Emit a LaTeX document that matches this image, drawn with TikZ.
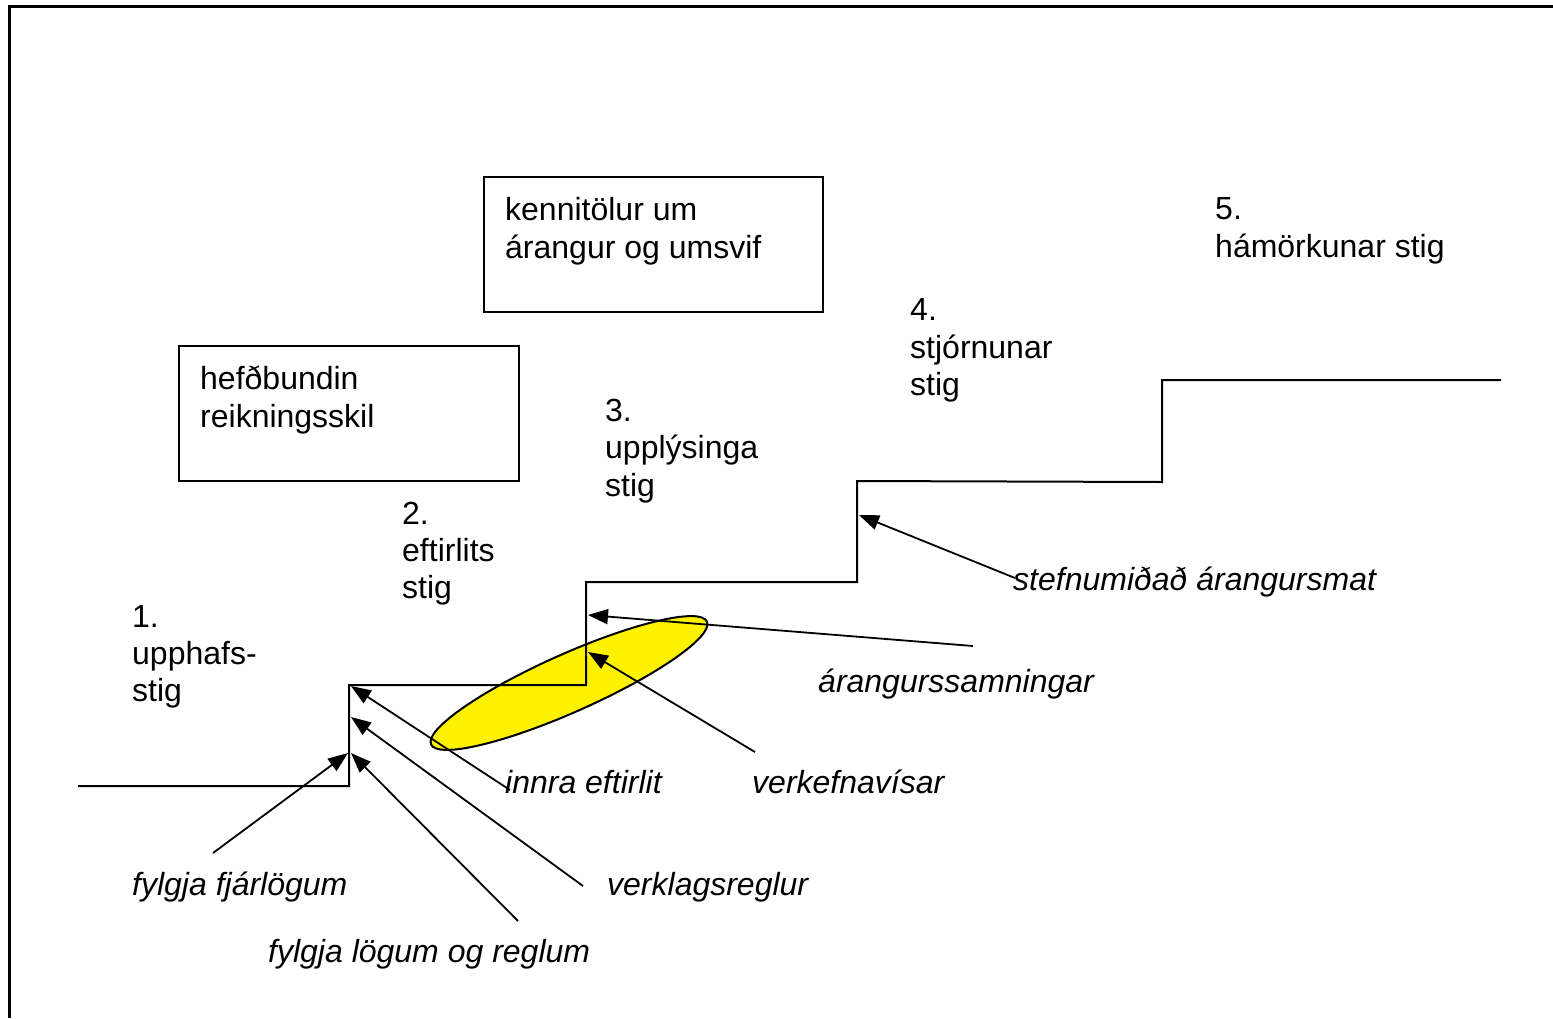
\documentclass[tikz,border=0pt]{standalone}
\usepackage{fontspec}
\setmainfont{Liberation Sans}
\usetikzlibrary{arrows.meta}
\begin{document}
\begin{tikzpicture}[x=1pt,y=-1pt,
  lbl/.style={font=\fontsize{32}{38}\selectfont, anchor=base west, inner sep=0pt},
  ilbl/.style={lbl, font=\fontsize{32}{38}\selectfont\itshape},
  boxstyle/.style={draw, line width=2pt},
  stair/.style={draw, line width=2pt},
  pointer/.style={draw, line width=1.8pt, -{Triangle[length=20pt,width=15pt]}},
  frame/.style={draw, line width=3pt}]
\path[use as bounding box] (0,0) rectangle (1553,1018);
% frame
\draw[frame] (9,1018) -- (9,6) -- (1553,6);
% boxes
\draw[boxstyle] (484,177) rectangle (823,312);
\draw[boxstyle] (179,346) rectangle (519,481);
% ellipse
\draw[line width=2pt, fill=yellow, rotate around={24:(569,683)}] (569,683) ellipse [x radius=151pt, y radius=29pt];
% stairs
\coordinate (s0) at (78,786);
\coordinate (s1) at (349,786);
\coordinate (s2) at (349,685);
\coordinate (s3) at (586,685);
\coordinate (s4) at (586,582);
\coordinate (s5) at (857,582);
\coordinate (s6) at (857,481);
\coordinate (s7) at (1162,482);
\coordinate (s8) at (1162,380);
\coordinate (s9) at (1501,380);
\draw[stair] (s0) -- (s1) -- (s2) -- (s3) -- (s4) -- (s5) -- (s6) -- (s7) -- (s8) -- (s9);
% box texts
\node[lbl] (k1) at (505,220) {kennitölur um};
\node[lbl] (k2) at (505,258) {árangur og umsvif};
\node[lbl] (h1) at (200,389) {hefðbundin};
\node[lbl] (h2) at (200,427) {reikningsskil};
% stage labels
\node[lbl] (a1) at (132,627) {1.};
\node[lbl] (a2) at (132,664) {upphafs-};
\node[lbl] (a3) at (132,701) {stig};
\node[lbl] (b1) at (402,524) {2.};
\node[lbl] (b2) at (402,561) {eftirlits};
\node[lbl] (b3) at (402,598) {stig};
\node[lbl] (c1) at (605,421) {3.};
\node[lbl] (c2) at (605,458) {upplýsinga};
\node[lbl] (c3) at (605,496) {stig};
\node[lbl] (d1) at (910,320) {4.};
\node[lbl] (d2) at (910,358) {stjórnunar};
\node[lbl] (d3) at (910,395) {stig};
\node[lbl] (e1) at (1215,219) {5.};
\node[lbl] (e2) at (1215,257) {hámörkunar stig};
% italic labels
\node[ilbl] (t1) at (1013,590) {stefnumiðað árangursmat};
\node[ilbl] (t2) at (818,692) {árangurssamningar};
\node[ilbl] (t3) at (505,793) {innra eftirlit};
\node[ilbl] (t4) at (752,793) {verkefnavísar};
\node[ilbl] (t5) at (132,895) {fylgja fjárlögum};
\node[ilbl] (t6) at (607,895) {verklagsreglur};
\node[ilbl] (t7) at (268,962) {fylgja lögum og reglum};
% arrow ends
\coordinate (f1) at (1015,578); \coordinate (g1) at (859,515);
\coordinate (f2) at (973,646);  \coordinate (g2) at (588,615);
\coordinate (f3) at (510,790);  \coordinate (g3) at (351,686);
\coordinate (f4) at (755,752);  \coordinate (g4) at (588,652);
\coordinate (f5) at (213,853);  \coordinate (g5) at (348,753);
\coordinate (f6) at (583,886);  \coordinate (g6) at (351,717);
\coordinate (f7) at (518,921);  \coordinate (g7) at (351,753);
\draw[pointer] (f1) -- (g1);
\draw[pointer] (f2) -- (g2);
\draw[pointer] (f3) -- (g3);
\draw[pointer] (f4) -- (g4);
\draw[pointer] (f5) -- (g5);
\draw[pointer] (f6) -- (g6);
\draw[pointer] (f7) -- (g7);
\end{tikzpicture}
\end{document}
